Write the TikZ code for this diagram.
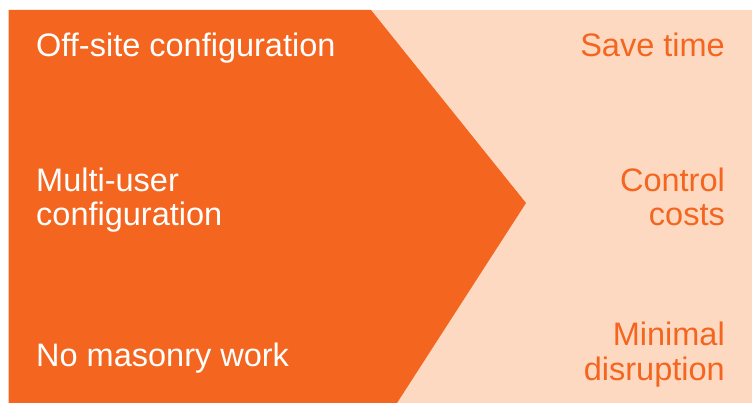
\documentclass[tikz,border=0pt]{standalone}
\usepackage{fontspec}
\setmainfont{Liberation Sans}
\definecolor{brandorange}{HTML}{F4661F}
\definecolor{peach}{HTML}{FDD9C2}
\tikzset{
  lefttext/.style={inner sep=0pt, anchor=base west, align=left, text=white,
    font=\fontsize{32.5}{34.5}\selectfont},
  righttext/.style={inner sep=0pt, anchor=base east, align=right, text=brandorange,
    font=\fontsize{32.5}{34.5}\selectfont}
}
\begin{document}
\begin{tikzpicture}[x=1pt,y=-1pt]
\useasboundingbox (0,0) rectangle (752,403);
\fill[peach] (8.5,10) rectangle (752,403);
\fill[brandorange] (8.5,10) -- (371,10) -- (526,203) -- (397,403) -- (8.5,403) -- cycle;
\node[lefttext] (l1) at (36,57) {Off-site configuration};
\node[lefttext] (l2) at (36,226) {Multi-user\\configuration};
\node[lefttext] (l3) at (36,366) {No masonry work};
\node[righttext] (r1) at (725,57) {Save time};
\node[righttext] (r2) at (725,226) {Control\\costs};
\node[righttext] (r3) at (725,380) {Minimal\\disruption};
\end{tikzpicture}
\end{document}
